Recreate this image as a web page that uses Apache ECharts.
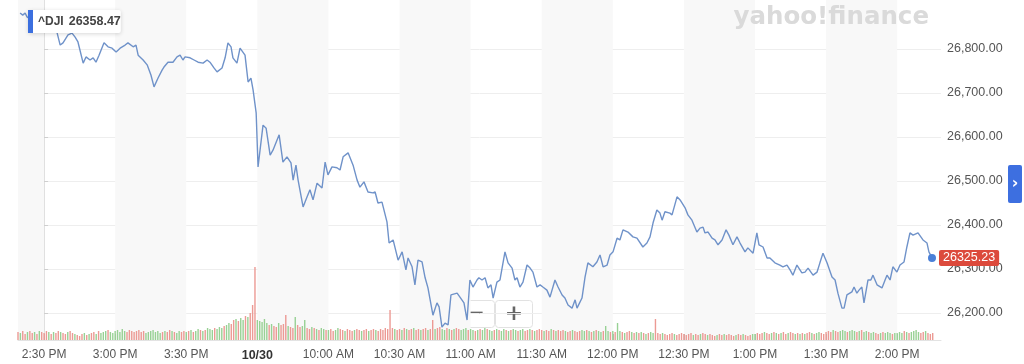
<!DOCTYPE html>
<html><head><meta charset="utf-8">
<script src="https://cdn.jsdelivr.net/npm/echarts@6/dist/echarts.min.js"></script>
<style>html,body{margin:0;padding:0;background:#fff}#c{width:1024px;height:364px}</style>
</head><body><div id="c"></div>
<script>
// ---- data (minutes of trading time relative to 2:30 PM of previous session; gap 4:00 PM -> 9:30 AM removed) ----
const tickMinutes = [0,30,60,90,120,150,180,210,240,270,300,330,360];
const tickLabels = ['2:30 PM','3:00 PM','3:30 PM','10/30','10:00 AM','10:30 AM','11:00 AM','11:30 AM','12:00 PM','12:30 PM','1:00 PM','1:30 PM','2:00 PM'];
const priceTicks = [26200,26300,26400,26500,26600,26700,26800];
const shadedRanges = [[-11,0],[30,60],[90,120],[150,180],[210,240],[270,300],[330,360]];
const xRange = [-11, 378.5];
const priceRange = [26138.6, 26911.4];
const volumeRange = [0, 340];
const symbolName = '^DJI';
const hoverValue = '26358.47';

const priceMinutes = [-10.1,-9.0,-8.0,-7.2,-3.8,0.4,3.4,5.4,6.8,8.0,10.1,11.8,13.1,14.3,16.5,17.7,19.4,20.7,21.9,23.2,25.3,27.0,28.7,30.4,32.1,34.2,35.4,37.6,38.8,39.7,41.8,43.5,45.1,46.4,48.1,49.8,50.6,52.3,54.4,56.1,57.4,58.6,59.5,61.6,63.3,65.0,67.1,68.8,70.0,71.7,73.0,75.1,76.4,77.6,78.9,79.7,81.4,82.7,83.5,84.8,86.1,87.3,88.2,89.5,90.3,92.4,93.7,95.4,96.6,99.2,100.8,102.5,104.2,105.1,106.3,107.2,109.3,111.0,112.2,113.5,115.2,117.3,118.6,119.8,121.5,123.6,124.9,126.2,128.3,130.4,132.1,133.3,135.0,136.7,138.8,139.7,140.9,142.6,144.7,145.6,147.3,149.4,151.1,152.7,153.6,155.3,156.5,157.8,159.5,160.8,162.0,164.1,165.8,166.7,167.9,169.2,170.5,171.7,174.3,175.5,177.2,178.5,179.7,181.0,182.7,183.5,184.8,186.1,187.3,188.6,189.5,191.1,192.4,194.5,195.8,197.5,198.7,199.6,200.8,202.1,203.8,205.1,206.3,208.0,209.3,210.5,212.2,213.5,215.6,216.9,218.6,219.8,221.1,222.8,224.1,224.9,227.0,228.3,229.5,231.6,233.3,234.6,235.9,237.6,238.8,240.1,241.8,243.0,244.3,246.4,248.5,250.2,252.7,254.4,255.7,257.0,258.6,259.9,260.8,262.0,264.1,265.0,267.1,268.4,270.5,271.7,273.4,275.5,276.8,278.1,278.9,280.2,281.9,283.1,284.4,286.1,287.8,289.0,290.7,292.4,293.7,295.8,297.0,299.2,300.8,301.7,303.4,305.1,306.3,308.4,310.5,311.8,313.5,314.8,316.0,317.7,319.8,321.1,322.4,324.5,326.2,327.4,328.7,330.4,332.5,333.8,335.0,336.7,337.6,338.8,340.9,341.8,343.0,343.9,345.1,346.0,347.7,348.9,349.8,351.5,353.6,354.9,355.7,357.0,358.2,359.9,361.2,362.9,364.1,365.4,366.7,367.5,368.8,370.9,372.6,373.4,374.7];
const priceValues = [26882,26877,26882,26873,26861,26848,26843,26839,26809,26814,26832,26836,26827,26816,26768,26782,26775,26780,26770,26786,26814,26805,26802,26793,26802,26809,26814,26805,26809,26786,26775,26764,26741,26714,26734,26752,26759,26770,26770,26782,26786,26775,26782,26780,26775,26770,26768,26775,26770,26757,26748,26757,26780,26814,26805,26780,26768,26802,26798,26786,26725,26734,26707,26655,26532,26627,26620,26559,26570,26605,26543,26555,26541,26502,26536,26502,26441,26464,26480,26457,26495,26484,26543,26514,26532,26530,26525,26555,26564,26536,26502,26486,26498,26475,26473,26475,26450,26452,26407,26359,26366,26320,26339,26298,26325,26305,26264,26320,26316,26280,26257,26195,26223,26214,26168,26177,26173,26241,26245,26236,26223,26184,26275,26259,26275,26280,26275,26280,26257,26264,26234,26270,26275,26339,26314,26302,26275,26280,26259,26270,26309,26302,26293,26259,26264,26259,26252,26236,26275,26259,26241,26234,26218,26211,26230,26211,26234,26282,26314,26305,26316,26332,26305,26309,26332,26339,26370,26366,26389,26384,26373,26370,26350,26359,26373,26405,26434,26427,26411,26430,26427,26423,26464,26457,26439,26423,26411,26384,26393,26395,26382,26384,26370,26366,26355,26366,26389,26377,26355,26373,26359,26339,26348,26336,26382,26355,26350,26325,26325,26314,26309,26305,26309,26298,26286,26309,26291,26293,26302,26286,26293,26314,26336,26314,26282,26275,26245,26211,26211,26241,26248,26259,26245,26252,26259,26223,26275,26275,26286,26264,26257,26275,26286,26275,26305,26293,26309,26316,26350,26382,26377,26377,26382,26366,26359,26339,26325.23];

// one bar per minute starting at volumeStart
const volumeStart = -11;
const volumes = [
 8,7,9,6,8,9,7,8,6,9,8,
 7,9,8,6,8,7,9,8,7,6, 8,9,7,6,5,4,6,7,5,6, 7,8,6,9,7,8,9,10,8,7,
 9,10,8,11,9,8,10,9,8,9, 10,8,9,7,8,9,10,8,9,7, 8,9,8,10,9,8,7,9,8,9,
 8,9,10,8,9,11,10,9,10,12, 11,10,12,11,13,12,14,15,17,16, 20,21,19,22,20,24,23,27,35,73,
 20,19,18,21,17,15,16,14,13,17, 15,16,25,14,13,12,23,15,13,14, 20,12,11,13,12,11,10,12,11,10,
 10,11,9,10,12,11,10,9,11,10, 9,10,11,10,9,10,11,9,10,11, 10,9,11,10,12,11,30,12,11,10,
 11,10,12,11,10,11,12,10,11,10, 11,12,10,11,20,11,12,13,11,10, 12,11,10,11,12,11,10,11,12,10,
 11,10,9,10,11,10,12,11,10,9, 10,11,10,9,11,10,9,10,11,10, 9,10,11,9,10,11,10,9,10,11,
 10,9,10,9,11,10,9,10,9,10, 9,8,9,10,9,8,9,10,9,10, 9,8,9,10,9,8,9,14,9,8,
 9,8,17,9,8,7,8,9,8,7, 8,7,8,7,6,7,8,7,21,7, 6,7,6,5,6,7,6,5,6,7,
 6,5,6,7,5,6,5,6,7,6, 5,6,5,4,5,6,5,6,5,6, 5,4,5,6,5,6,5,4,5,6,
 6,7,6,7,8,7,6,7,8,7, 6,7,8,6,7,8,7,6,7,6, 7,6,7,8,7,6,7,8,7,6,
 8,9,8,10,9,8,9,10,9,8, 9,10,9,8,9,10,8,9,8,7, 8,7,6,7,8,7,8,7,6,7,
 7,8,7,9,8,7,8,9,10,8, 7,8,9,7,6,7
];
// g = up minute, r = down minute
const volumeDirections =
 'rgrrgrrgrgr' +
 'rrgrgrrgrr'+'grrgrrrgrg'+'rrgrgggrgg' +
 'gggggrrrrr'+'rrrggggggg'+'rgrrgrggrr' +
 'grgrggrgrg'+'ggrgggrggr'+'rgrggrgrrr' +
 'gggggrgrrg'+'rrrgrrgrrg'+'grrgrgrggr' +
 'grrggrrgrr'+'rgrrgrrgrr'+'grrrrrrrgr' +
 'rgrgrrgrrg'+'rrgrrgrrgg'+'rgrgrrgggr' +
 'ggrgrggrgg'+'rgrggrgrgg'+'rggrrgrgrr' +
 'rgrrgrgrrr'+'grrgrrrggr'+'grgrggrggr' +
 'grggrgrrgr'+'grgrgrggrr'+'rgrrrrgrrr' +
 'rrrrgrrgrr'+'grrrgrrgrr'+'rrgrrgrrrg' +
 'grrrgrrgrg'+'rgrrgrrgrg'+'rgrrgrggrr' +
 'rrrgrrgggr'+'gggrgrggrg'+'grrgrgggrg' +
 'gggrgrgggg'+'rrgrrr';

// ---- chart ----
const chart = echarts.init(document.getElementById('c'), null, {renderer: 'canvas'});
const FONT = '"Liberation Sans", Arial, sans-serif';
const labelOf = v => { const i = tickMinutes.indexOf(v); return i < 0 ? '' : tickLabels[i]; };
const priceData = priceMinutes.map((m, i) => [m, priceValues[i]]);
const volumeData = volumes.map((v, i) => ({
  value: [volumeStart + i, v],
  itemStyle: {color: volumeDirections[i] === 'g' ? '#98d194' : '#ec9a94'}
}));
const last = priceData[priceData.length - 1];

chart.setOption({
  animation: false,
  textStyle: {fontFamily: FONT},
  title: [
    {
      left: 28, top: 10, padding: 0,
      backgroundColor: '#fff', borderRadius: 2,
      shadowBlur: 4, shadowColor: 'rgba(0,0,0,0.16)', shadowOffsetY: 1,
      text: '{bar|}{sym|' + symbolName + '}{val|' + hoverValue + '}',
      textStyle: {
        rich: {
          bar: {width: 5, height: 23, backgroundColor: '#3b6fdf'},
          sym: {fontSize: 12, fontWeight: 600, color: '#444', padding: [0, 0, 0, 5], fontFamily: FONT},
          val: {fontSize: 12.5, fontWeight: 600, color: '#444', padding: [0, 5, 0, 5], fontFamily: FONT}
        }
      }
    },
    {
      right: 95, top: 5, padding: 0,
      text: 'yahoo!finance',
      textStyle: {fontFamily: '"DejaVu Sans", sans-serif', fontWeight: 'bold', fontSize: 24.5, color: '#dadada'}
    }
  ],
  grid: [
    {left: 18, right: 83, top: 0, bottom: 24},
    {left: 18, right: 83, top: 0, bottom: 24}
  ],
  xAxis: [
    {
      gridIndex: 0, type: 'value', min: xRange[0], max: xRange[1], z: 1,
      axisLine: {show: true, lineStyle: {color: '#e3e3e3'}},
      axisTick: {show: true, inside: true, length: 6, customValues: tickMinutes, lineStyle: {color: '#b8b8b8'}},
      axisLabel: {
        customValues: tickMinutes, margin: 9, fontSize: 12, color: '#555',
        formatter: v => { const t = labelOf(v); return t.indexOf('/') >= 0 ? '{b|' + t + '}' : t; },
        rich: {b: {fontWeight: 'bold', color: '#333', fontSize: 12.5, fontFamily: FONT}}
      },
      splitLine: {show: false}
    },
    {gridIndex: 1, type: 'value', min: xRange[0], max: xRange[1], show: false}
  ],
  yAxis: [
    {gridIndex: 0, type: 'value', min: volumeRange[0], max: volumeRange[1], show: false},
    {
      gridIndex: 1, type: 'value', position: 'right', min: priceRange[0], max: priceRange[1], z: 1,
      axisLine: {show: true, lineStyle: {color: '#e0e0e0'}},
      axisTick: {show: true, length: 4, customValues: priceTicks, lineStyle: {color: '#cfcfcf'}},
      axisLabel: {
        customValues: priceTicks, margin: 6, fontSize: 12.5, color: '#555',
        formatter: v => v.toLocaleString('en-US', {minimumFractionDigits: 2, maximumFractionDigits: 2})
      },
      splitLine: {show: true, lineStyle: {color: '#eeeeee'}}
    }
  ],
  series: [
    {
      type: 'line', xAxisIndex: 0, yAxisIndex: 0, data: [], z: 0, silent: true,
      markArea: {
        silent: true,
        itemStyle: {color: '#f8f8f8'},
        data: shadedRanges.map(r => [{xAxis: r[0]}, {xAxis: r[1]}])
      }
    },
    {
      type: 'bar', xAxisIndex: 0, yAxisIndex: 0, data: volumeData, barWidth: 1.4, z: 2, silent: true
    },
    {
      type: 'line', xAxisIndex: 1, yAxisIndex: 1, data: priceData, z: 3,
      symbol: 'none', silent: true,
      lineStyle: {color: '#6f92c9', width: 1.4},
      endLabel: {
        show: true, distance: 7,
        formatter: p => p.value[1].toFixed(2),
        backgroundColor: '#dc4a3c', color: '#fff', fontSize: 12.5,
        padding: [2, 4, 1, 4], borderRadius: 2
      },
      markPoint: {
        silent: true, symbol: 'circle', symbolSize: 8,
        itemStyle: {color: '#4a80d8'}, label: {show: false},
        data: [{coord: last}]
      }
    }
  ],
  graphic: [
    {
      type: 'group', left: 458, top: 300, z: 10,
      children: [
        {type: 'rect', shape: {x: 0, y: 0, width: 36, height: 27, r: 3}, style: {fill: 'rgba(255,255,255,0.9)', stroke: '#e2e2e2', lineWidth: 1}},
        {type: 'rect', shape: {x: 37, y: 0, width: 37, height: 27, r: 3}, style: {fill: 'rgba(255,255,255,0.9)', stroke: '#e2e2e2', lineWidth: 1}},
        {type: 'text', x: 18, y: 13.5, style: {text: '\u2212', font: 'bold 20px "DejaVu Sans", sans-serif', fill: '#666', align: 'center', verticalAlign: 'middle'}},
        {type: 'text', x: 55.5, y: 13.5, style: {text: '+', font: 'bold 22px "DejaVu Sans", sans-serif', fill: '#666', align: 'center', verticalAlign: 'middle'}}
      ]
    },
    {
      type: 'group', left: 1008, top: 165, z: 10,
      children: [
        {type: 'rect', shape: {x: 0, y: 0, width: 14, height: 38, r: 2}, style: {fill: '#3d6fe0'}},
        {type: 'text', x: 7, y: 19, style: {text: '\u203A', font: 'bold 16px "DejaVu Sans", sans-serif', fill: '#fff', align: 'center', verticalAlign: 'middle'}}
      ]
    }
  ]
});
</script>
</body></html>
